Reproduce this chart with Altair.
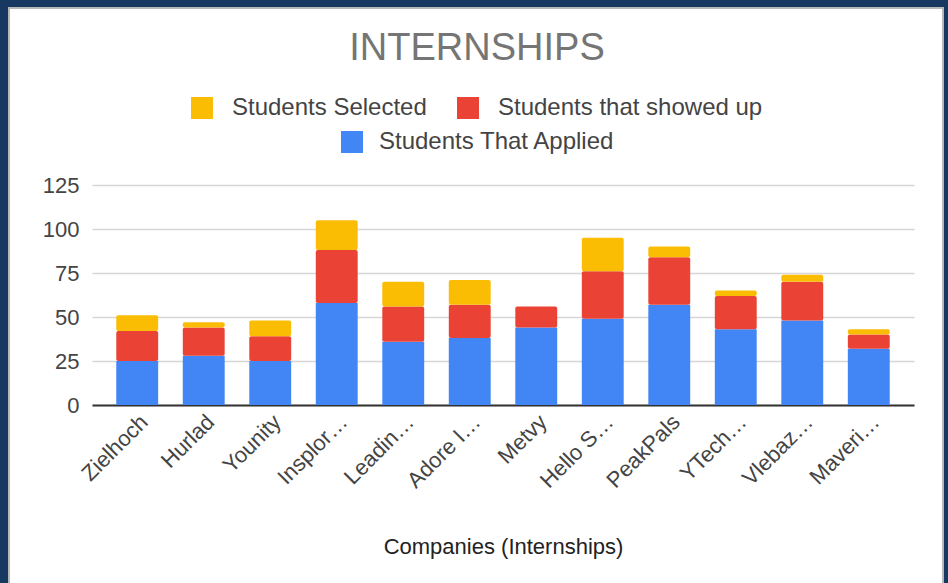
import altair as alt
import pandas as pd

companies = ["Zielhoch", "Hurlad", "Younity", "Insplor…", "Leadin…", "Adore I…",
             "Metvy", "Hello S…", "PeakPals", "YTech…", "Vlebaz…", "Maveri…"]
applied = [25, 28, 25, 58, 36, 38, 44, 49, 57, 43, 48, 32]
showed_up = [17, 16, 14, 30, 20, 19, 12, 27, 27, 19, 22, 8]
selected = [9, 3, 9, 17, 14, 14, 0, 19, 6, 3, 4, 3]

series_names = ["Students That Applied", "Students that showed up", "Students Selected"]
y_ticks = [0, 25, 50, 75, 100, 125]

BLUE, RED, YELLOW = "#4285F4", "#EA4335", "#FBBC04"
NAVY = "#173861"
FONT = "Liberation Sans"

rows = []
for i, c in enumerate(companies):
    for k, vals in enumerate([applied, showed_up, selected]):
        rows.append({"company": c, "series": series_names[k], "order": k, "value": vals[i]})
df = pd.DataFrame(rows)

x_enc = alt.X("company:N", sort=companies,
              scale=alt.Scale(paddingInner=0.37, paddingOuter=0.365),
              axis=alt.Axis(title="Companies (Internships)", labelAngle=-45, ticks=False,
                            labelPadding=6, labelFontSize=22, labelColor="#444444",
                            labelFont=FONT, labelLimit=300, domainColor="#333333",
                            domainWidth=2, titleFontSize=22, titleFont=FONT,
                            titleFontWeight="normal", titleColor="#222222",
                            titlePadding=45, grid=False))
y_enc = alt.Y("y0:Q", scale=alt.Scale(domain=[0, 125], nice=False),
              axis=alt.Axis(title=None, values=y_ticks, ticks=False, domain=False,
                            labelPadding=13, labelFontSize=22, labelColor="#444444",
                            labelFont=FONT, gridColor="#d6d6d6", gridWidth=1.5))

base = alt.Chart(df).transform_stack(
    stack="value", groupby=["company"], as_=["y0", "y1"],
    sort=[alt.SortField("order", order="ascending")])

top_layer = base.transform_filter(alt.datum.order > 0).mark_bar(cornerRadiusEnd=2).encode(
    x=x_enc, y=y_enc, y2="y1:Q",
    color=alt.Color("series:N",
                    scale=alt.Scale(domain=["Students Selected", "Students that showed up"],
                                    range=[YELLOW, RED]),
                    legend=alt.Legend(title=None, orient="none", legendX=98, legendY=-89,
                                      direction="horizontal", symbolType="square",
                                      symbolSize=484, symbolStrokeWidth=0,
                                      labelFontSize=24, labelFont=FONT, labelColor="#444444",
                                      labelLimit=500, labelOffset=18, columnPadding=29,
                                      padding=0)))

bottom_layer = base.transform_filter(alt.datum.order == 0).mark_bar().encode(
    x=x_enc, y=y_enc, y2="y1:Q",
    fill=alt.Fill("series:N",
                  scale=alt.Scale(domain=["Students That Applied"], range=[BLUE]),
                  legend=alt.Legend(title=None, orient="none", legendX=248, legendY=-55,
                                    direction="horizontal", symbolType="square",
                                    symbolSize=484, symbolStrokeWidth=0,
                                    labelFontSize=24, labelFont=FONT, labelColor="#444444",
                                    labelLimit=500, labelOffset=15, padding=0)))

one = alt.Data(values=[{"k": 1}])
frame_top = alt.Chart(one).mark_rect(color=NAVY).encode(
    x=alt.value(-92), x2=alt.value(856), y=alt.value(-185), y2=alt.value(-177))
frame_left = alt.Chart(one).mark_rect(color=NAVY).encode(
    x=alt.value(-92), x2=alt.value(-83), y=alt.value(-185), y2=alt.value(398))
frame_right = alt.Chart(one).mark_rect(color=NAVY).encode(
    x=alt.value(852), x2=alt.value(856), y=alt.value(-185), y2=alt.value(398))
card_border = alt.Chart(one).mark_rect(fill="transparent", stroke="#b8b8b8", strokeWidth=2).encode(
    x=alt.value(-83), x2=alt.value(851), y=alt.value(-177), y2=alt.value(420))

chart = alt.layer(frame_top, frame_left, frame_right, card_border, bottom_layer, top_layer).resolve_scale(
    color="independent", fill="independent"
).properties(
    width=822, height=220,
    padding={"left": 92, "top": 185, "right": 34, "bottom": 178},
    autosize=alt.AutoSizeParams(type="none"),
    title=alt.TitleParams("INTERNSHIPS", fontSize=38, font=FONT, fontWeight="normal",
                          color="#757575", anchor="middle", frame="group", dx=-26,
                          baseline="alphabetic", offset=-98),
).configure(background="white").configure_view(stroke=None)

chart.save("out.html", embed_options={"renderer": "svg", "actions": False})
